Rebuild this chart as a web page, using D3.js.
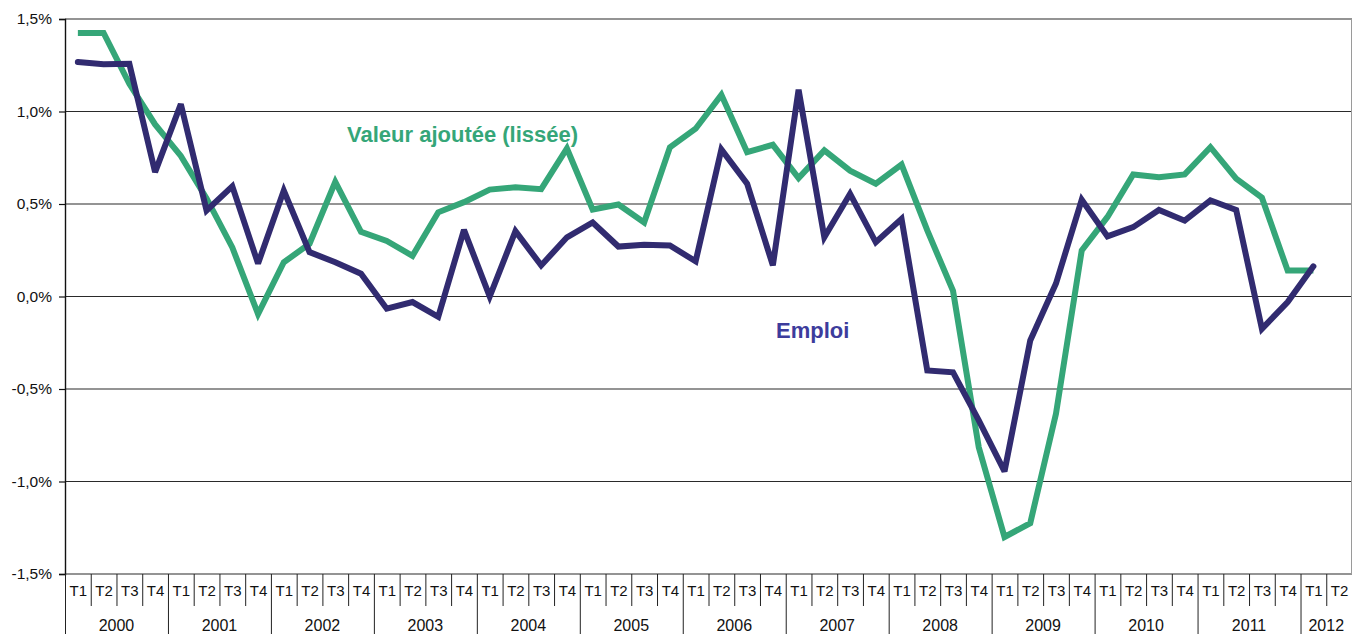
<!DOCTYPE html>
<html>
<head>
<meta charset="utf-8">
<script src="https://cdn.jsdelivr.net/npm/d3@7"></script>
<style>
  body { margin: 0; background: #ffffff; }
  svg { display: block; font-family: "Liberation Sans", Arial, Helvetica, sans-serif; }
</style>
</head>
<body>
<div id="viz"></div>
<script>
document.addEventListener("DOMContentLoaded", () => {

  const width = 1353
  const height = 634

  // données
  const years = ["2000", "2001", "2002", "2003", "2004", "2005", "2006",
    "2007", "2008", "2009", "2010", "2011", "2012"]
  const quarters = ["T1", "T2", "T3", "T4"]
  const yTicks = [-1.5, -1.0, -0.5, 0, 0.5, 1.0, 1.5]

  // valeur ajoutée (lissée), en %
  const valeurAjoutee = [
    1.425, 1.425, 1.15, 0.93,
    0.76, 0.53, 0.265, -0.095,
    0.185, 0.285, 0.62, 0.35,
    0.30, 0.22, 0.455, 0.51,
    0.578, 0.59, 0.58, 0.80,
    0.47, 0.497, 0.40, 0.806,
    0.907, 1.09, 0.78, 0.82,
    0.64, 0.79, 0.68, 0.61,
    0.713, 0.357, 0.03, -0.815,
    -1.30, -1.225, -0.633, 0.249,
    0.43, 0.66, 0.645, 0.66,
    0.807, 0.637, 0.534, 0.14,
    0.14, null
  ]

  // emploi, en %
  const emploi = [
    1.267, 1.256, 1.258, 0.672,
    1.04, 0.465, 0.595, 0.178,
    0.573, 0.24, 0.185, 0.123,
    -0.066, -0.03, -0.11, 0.36,
    0.0, 0.353, 0.168, 0.32,
    0.40, 0.27, 0.28, 0.276,
    0.19, 0.795, 0.61, 0.168,
    1.118, 0.32, 0.555, 0.293,
    0.42, -0.40, -0.41, -0.67,
    -0.945, -0.238, 0.07, 0.523,
    0.325, 0.375, 0.468, 0.41,
    0.52, 0.468, -0.175, -0.03,
    0.163, null
  ]

  // trimestres : 2000 T1 ... 2012 T2
  const periods = []
  years.forEach(y => {
    quarters.forEach(q => {
      if (y === "2012" && (q === "T3" || q === "T4")) return
      periods.push({ year: y, quarter: q, key: y + "-" + q })
    })
  })

  const svg = d3.select("#viz").append("svg")
  .attr("width", width)
  .attr("height", height)

  const x = d3.scaleBand()
  .domain(periods.map(d => d.key))
  .range([65, 1352])

  const y = d3.scaleLinear()
  .domain([-1.5, 1.5])
  .range([574, 19])

  const fr = d3.formatLocale({ decimal: ",", thousands: " ", grouping: [3], currency: ["", " €"], minus: "-" })
  const fmt = v => fr.format(".1f")(v) + "%"

  // grille
  svg.append("g")
  .selectAll("line")
  .data(yTicks)
  .join("line")
  .attr("x1", 65)
  .attr("x2", 1352)
  .attr("y1", d => y(d))
  .attr("y2", d => y(d))
  .attr("stroke", "#2a2a2a")
  .attr("stroke-width", 1.2)

  // bord droit
  svg.append("line")
  .attr("x1", 1351.5).attr("x2", 1351.5)
  .attr("y1", y(1.5)).attr("y2", y(-1.5))
  .attr("stroke", "#9a9a9a")
  .attr("stroke-width", 1)

  // axe vertical
  const yAxis = svg.append("g")
  .attr("transform", "translate(65,0)")
  .call(d3.axisLeft(y).tickValues(yTicks).tickSize(6).tickPadding(7).tickFormat(fmt))

  yAxis.select(".domain").attr("stroke", "#111").attr("stroke-width", 1.4)
  yAxis.selectAll(".tick line").attr("stroke", "#111").attr("stroke-width", 1.2)
  yAxis.selectAll(".tick text")
  .attr("font-size", 15.5)
  .attr("font-family", "Liberation Sans, Arial, sans-serif")
  .attr("fill", "#111")

  // axe horizontal : trimestres
  const xAxis = svg.append("g")

  xAxis.selectAll("line.q")
  .data(periods)
  .join("line")
  .attr("class", "q")
  .attr("x1", d => x(d.key) + 0.5)
  .attr("x2", d => x(d.key) + 0.5)
  .attr("y1", 574)
  .attr("y2", d => d.quarter === "T1" ? 634 : 606)
  .attr("stroke", "#222")
  .attr("stroke-width", 1)

  xAxis.selectAll("text.q")
  .data(periods)
  .join("text")
  .attr("class", "q")
  .attr("x", d => x(d.key) + x.bandwidth() / 2 + 0.5)
  .attr("y", 596)
  .attr("text-anchor", "middle")
  .attr("font-size", 15)
  .attr("fill", "#111")
  .text(d => d.quarter)

  // années
  xAxis.selectAll("text.y")
  .data(years)
  .join("text")
  .attr("class", "y")
  .attr("x", yr => {
    const ps = periods.filter(p => p.year === yr)
    return (x(ps[0].key) + x(ps[ps.length - 1].key) + x.bandwidth()) / 2
  })
  .attr("y", 631)
  .attr("text-anchor", "middle")
  .attr("font-size", 16)
  .attr("fill", "#111")
  .text(yr => yr)

  // courbes
  const line = d3.line()
  .defined(d => d.v !== null)
  .x(d => x(d.key) + x.bandwidth() / 2)
  .y(d => y(d.v))

  svg.append("path")
  .datum(periods.map((p, i) => ({ key: p.key, v: valeurAjoutee[i] })))
  .attr("d", line)
  .attr("fill", "none")
  .attr("stroke", "#35a678")
  .attr("stroke-width", 6)
  .attr("stroke-linejoin", "miter")
  .attr("stroke-miterlimit", 3)

  svg.append("path")
  .datum(periods.map((p, i) => ({ key: p.key, v: emploi[i] })))
  .attr("d", line)
  .attr("fill", "none")
  .attr("stroke", "#312b70")
  .attr("stroke-width", 6)
  .attr("stroke-linejoin", "miter")
  .attr("stroke-miterlimit", 3)
  .attr("stroke-linecap", "round")

  // étiquettes des séries
  svg.append("text")
  .attr("x", 347)
  .attr("y", 142)
  .attr("font-size", 22)
  .attr("font-weight", "bold")
  .attr("fill", "#35a678")
  .text("Valeur ajoutée (lissée)")

  svg.append("text")
  .attr("x", 776)
  .attr("y", 338)
  .attr("font-size", 22)
  .attr("font-weight", "bold")
  .attr("fill", "#3d3c9c")
  .text("Emploi")

})
</script>
</body>
</html>
